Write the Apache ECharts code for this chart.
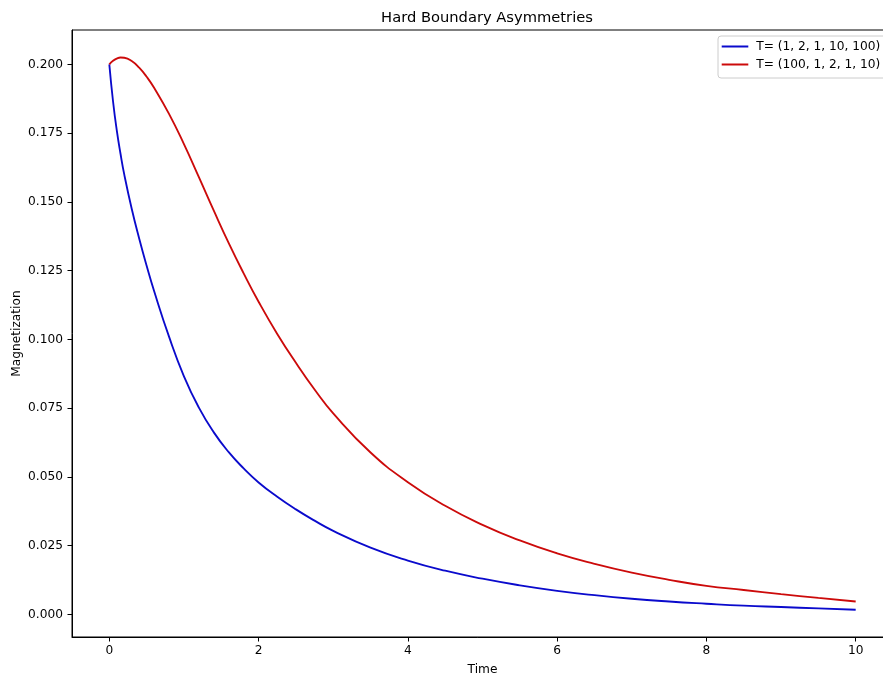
<!DOCTYPE html>
<html>
<head>
<meta charset="utf-8">
<script src="https://cdn.jsdelivr.net/npm/echarts@6/dist/echarts.min.js"></script>
<style>html,body{margin:0;padding:0;background:#fff}#c{width:883px;height:675px}</style>
</head>
<body>
<div id="c"></div>
<script>
const titleText = 'Hard Boundary Asymmetries';
const xName = 'Time';
const yName = 'Magnetization';
const seriesNames = ['T= (1, 2, 1, 10, 100)', 'T= (100, 1, 2, 1, 10)'];
const time = [0, 0.05, 0.1, 0.15, 0.2, 0.3, 0.4, 0.5, 0.6, 0.8, 1.0, 1.2, 1.4, 1.6, 1.8, 2.0, 2.25, 2.5, 2.75, 3.0, 3.5, 4.0, 4.5, 5.0, 5.5, 6.0, 6.5, 7.0, 7.5, 8.0, 8.5, 9.0, 9.5, 10];
const blueValues = [0.2000, 0.1865, 0.1760, 0.1675, 0.1600, 0.1475, 0.1367, 0.1268, 0.1176, 0.1010, 0.0866, 0.0752, 0.0662, 0.0590, 0.0531, 0.0480, 0.0428, 0.0382, 0.0341, 0.0304, 0.0243, 0.0196, 0.0159, 0.0130, 0.0106, 0.0086, 0.0070, 0.0057, 0.0047, 0.0039, 0.0032, 0.0027, 0.0022, 0.0017];
const redValues = [0.2000, 0.2013, 0.2021, 0.2025, 0.2024, 0.2012, 0.1988, 0.1955, 0.1915, 0.1820, 0.1710, 0.1590, 0.1468, 0.1350, 0.1240, 0.1137, 0.1020, 0.0915, 0.0818, 0.0731, 0.0589, 0.0481, 0.0395, 0.0326, 0.0269, 0.0222, 0.0184, 0.0152, 0.0126, 0.0104, 0.0089, 0.0074, 0.0060, 0.0047];
const xTicks = [0, 2, 4, 6, 8, 10];
const yTicks = [0, 0.025, 0.05, 0.075, 0.1, 0.125, 0.15, 0.175, 0.2];
const colors = ['#0a0acc', '#cc0a0a'];

const zip = (a, b) => a.map((v, i) => [v, b[i]]);
const font = 'DejaVu Sans';
const fs = 12.2;
const chart = echarts.init(document.getElementById('c'));
chart.setOption({
  animation: false,
  backgroundColor: '#fff',
  title: { text: titleText, left: 482, textAlign: 'center', top: 6,
    textStyle: { fontFamily: font, fontSize: 14.7, fontWeight: 'normal', color: '#000' } },
  legend: {
    orient: 'vertical', left: 718, top: 36,
    icon: 'rect', itemWidth: 26.6, itemHeight: 2, itemGap: 3,
    padding: [3, 10, 6, 3.7],
    borderColor: '#cccccc', borderWidth: 1, borderRadius: 3,
    textStyle: { fontFamily: font, fontSize: fs, color: '#000', padding: [0, 0, 0, 3], lineHeight: 15 },
    data: seriesNames
  },
  grid: { left: 72, top: 30, right: -10, bottom: 38, show: true, borderColor: '#000', borderWidth: 1,
    containLabel: false, outerBoundsMode: 'none' },
  xAxis: {
    type: 'value', min: -0.5, max: 10.5,
    name: xName, nameLocation: 'middle', nameGap: 27,
    nameTextStyle: { fontFamily: font, fontSize: fs, color: '#000' },
    splitLine: { show: false },
    axisLine: { onZero: false, lineStyle: { color: '#000', width: 1 } },
    axisTick: { inside: false, length: 4.5, customValues: xTicks, lineStyle: { color: '#000' } },
    axisLabel: { customValues: xTicks, fontFamily: font, fontSize: fs, color: '#000', margin: 8,
      formatter: v => String(v) }
  },
  yAxis: {
    type: 'value', min: -0.0082, max: 0.2125,
    name: yName, nameLocation: 'middle', nameGap: 49, nameRotate: 90, nameMoveOverlap: false,
    nameTextStyle: { fontFamily: font, fontSize: fs, color: '#000' },
    splitLine: { show: false },
    axisLine: { show: true, onZero: false, lineStyle: { color: '#000', width: 1 } },
    axisTick: { show: true, inside: false, length: 4.5, customValues: yTicks, lineStyle: { color: '#000' } },
    axisLabel: { customValues: yTicks, fontFamily: font, fontSize: fs, color: '#000', margin: 9,
      formatter: v => v.toFixed(3) }
  },
  series: [
    { name: seriesNames[0], type: 'line', data: zip(time, blueValues), smooth: 0.5,
      symbol: 'none', lineStyle: { color: colors[0], width: 1.85 }, itemStyle: { color: colors[0] } },
    { name: seriesNames[1], type: 'line', data: zip(time, redValues), smooth: 0.5,
      symbol: 'none', lineStyle: { color: colors[1], width: 1.85 }, itemStyle: { color: colors[1] } }
  ]
});
</script>
</body>
</html>
